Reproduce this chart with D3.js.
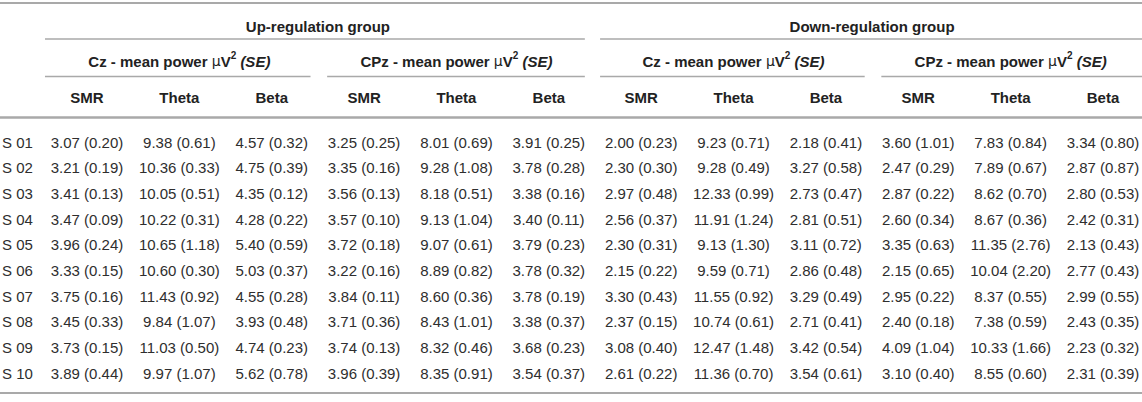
<!DOCTYPE html>
<html><head><meta charset="utf-8">
<script src="https://cdn.jsdelivr.net/npm/d3@7"></script>
<style>
html,body{margin:0;padding:0;background:#fff;}
svg{display:block;font-family:"Liberation Sans",Arial,Helvetica,sans-serif;}
</style></head>
<body>
<svg id="t" width="1142" height="402"></svg>
<script>
// ---- data ----
const subjects = ["S 01","S 02","S 03","S 04","S 05","S 06","S 07","S 08","S 09","S 10"];
const groups = ["Up-regulation group","Down-regulation group"];
const channels = ["Cz","CPz"];
const bands = ["SMR","Theta","Beta"];

// [mean, SE]
const upCzSMR   = [[3.07,0.20],[3.21,0.19],[3.41,0.13],[3.47,0.09],[3.96,0.24],[3.33,0.15],[3.75,0.16],[3.45,0.33],[3.73,0.15],[3.89,0.44]];
const upCzTheta = [[9.38,0.61],[10.36,0.33],[10.05,0.51],[10.22,0.31],[10.65,1.18],[10.60,0.30],[11.43,0.92],[9.84,1.07],[11.03,0.50],[9.97,1.07]];
const upCzBeta  = [[4.57,0.32],[4.75,0.39],[4.35,0.12],[4.28,0.22],[5.40,0.59],[5.03,0.37],[4.55,0.28],[3.93,0.48],[4.74,0.23],[5.62,0.78]];
const upCPzSMR   = [[3.25,0.25],[3.35,0.16],[3.56,0.13],[3.57,0.10],[3.72,0.18],[3.22,0.16],[3.84,0.11],[3.71,0.36],[3.74,0.13],[3.96,0.39]];
const upCPzTheta = [[8.01,0.69],[9.28,1.08],[8.18,0.51],[9.13,1.04],[9.07,0.61],[8.89,0.82],[8.60,0.36],[8.43,1.01],[8.32,0.46],[8.35,0.91]];
const upCPzBeta  = [[3.91,0.25],[3.78,0.28],[3.38,0.16],[3.40,0.11],[3.79,0.23],[3.78,0.32],[3.78,0.19],[3.38,0.37],[3.68,0.23],[3.54,0.37]];
const downCzSMR   = [[2.00,0.23],[2.30,0.30],[2.97,0.48],[2.56,0.37],[2.30,0.31],[2.15,0.22],[3.30,0.43],[2.37,0.15],[3.08,0.40],[2.61,0.22]];
const downCzTheta = [[9.23,0.71],[9.28,0.49],[12.33,0.99],[11.91,1.24],[9.13,1.30],[9.59,0.71],[11.55,0.92],[10.74,0.61],[12.47,1.48],[11.36,0.70]];
const downCzBeta  = [[2.18,0.41],[3.27,0.58],[2.73,0.47],[2.81,0.51],[3.11,0.72],[2.86,0.48],[3.29,0.49],[2.71,0.41],[3.42,0.54],[3.54,0.61]];
const downCPzSMR   = [[3.60,1.01],[2.47,0.29],[2.87,0.22],[2.60,0.34],[3.35,0.63],[2.15,0.65],[2.95,0.22],[2.40,0.18],[4.09,1.04],[3.10,0.40]];
const downCPzTheta = [[7.83,0.84],[7.89,0.67],[8.62,0.70],[8.67,0.36],[11.35,2.76],[10.04,2.20],[8.37,0.55],[7.38,0.59],[10.33,1.66],[8.55,0.60]];
const downCPzBeta  = [[3.34,0.80],[2.87,0.87],[2.80,0.53],[2.42,0.31],[2.13,0.43],[2.77,0.43],[2.99,0.55],[2.43,0.35],[2.23,0.32],[2.31,0.39]];

const columnsData = [upCzSMR,upCzTheta,upCzBeta,upCPzSMR,upCPzTheta,upCPzBeta,
                     downCzSMR,downCzTheta,downCzBeta,downCPzSMR,downCPzTheta,downCPzBeta];

// ---- layout ----
const W = 1142, H = 402;
const svg = d3.select("#t");
const colKeys = d3.range(12);
const x = d3.scalePoint().domain(colKeys).range([87, 1103]);
const step = x.step();
const y = d3.scalePoint().domain(subjects).range([142, 373]);

const lineCol = "#a9a9a9";
const txtCol = "#222";
const dataCol = "#2e2e2e";
const fs = 15;

function hline(x1, x2, yy, w) {
  svg.append("line").attr("x1", x1).attr("x2", x2).attr("y1", yy).attr("y2", yy)
    .attr("stroke", lineCol).attr("stroke-width", w);
}

// rules
hline(0, W, 3, 2);
hline(0, W, 117.5, 2.5);
hline(0, W, 393, 2);

// group headers + underlines
groups.forEach((g, gi) => {
  const c0 = gi * 6, c1 = gi * 6 + 5;
  const left = gi === 0 ? x(c0) - step * 0.455 : x(c0) - step * 0.445;
  const right = gi === 0 ? x(c1) + step * 0.39 : W;
  hline(left, right, 39, 1.5);
  svg.append("text").attr("x", (x(c0) + x(c1)) / 2).attr("y", 26)
    .attr("text-anchor", "middle").attr("dominant-baseline", "central")
    .attr("font-size", fs).attr("font-weight", "bold").attr("fill", txtCol).text(g);

  channels.forEach((ch, ci) => {
    const s0 = c0 + ci * 3, s1 = s0 + 2;
    const l = ci === 0 ? left : x(s0) - step * 0.4;
    const r = ci === 0 ? x(s1) + step * 0.42 : right;
    hline(l, r, 76.5, 1.5);
    const t = svg.append("text").attr("x", (x(s0) + x(s1)) / 2).attr("y", 61)
      .attr("text-anchor", "middle").attr("dominant-baseline", "central")
      .attr("font-size", fs).attr("font-weight", "bold").attr("fill", txtCol);
    t.append("tspan").text(ch + " - mean power ");
    t.append("tspan").attr("font-weight", "normal").attr("font-family", "'DejaVu Sans',sans-serif").attr("font-size", 14).text("\u00B5");
    t.append("tspan").text("V");
    t.append("tspan").attr("font-size", 10).attr("dy", -6).text("2");
    t.append("tspan").attr("dy", 6).text(" ");
    t.append("tspan").attr("font-style", "italic").text("(SE)");

    bands.forEach((b, bi) => {
      svg.append("text").attr("x", x(s0 + bi)).attr("y", 97)
        .attr("text-anchor", "middle").attr("dominant-baseline", "central")
        .attr("font-size", fs).attr("font-weight", "bold").attr("fill", txtCol).text(b);
    });
  });
});

// row labels
svg.append("g").selectAll("text").data(subjects).join("text")
  .attr("x", 2).attr("y", d => y(d)).attr("dominant-baseline", "central")
  .attr("font-size", fs).attr("fill", dataCol).text(d => d);

// cells
columnsData.forEach((col, ci) => {
  svg.append("g").selectAll("text").data(col).join("text")
    .attr("x", x(ci)).attr("y", (d, i) => y(subjects[i]))
    .attr("text-anchor", "middle").attr("dominant-baseline", "central")
    .attr("font-size", fs).attr("fill", dataCol)
    .text(d => d[0].toFixed(2) + " (" + d[1].toFixed(2) + ")");
});
</script>
</body></html>
